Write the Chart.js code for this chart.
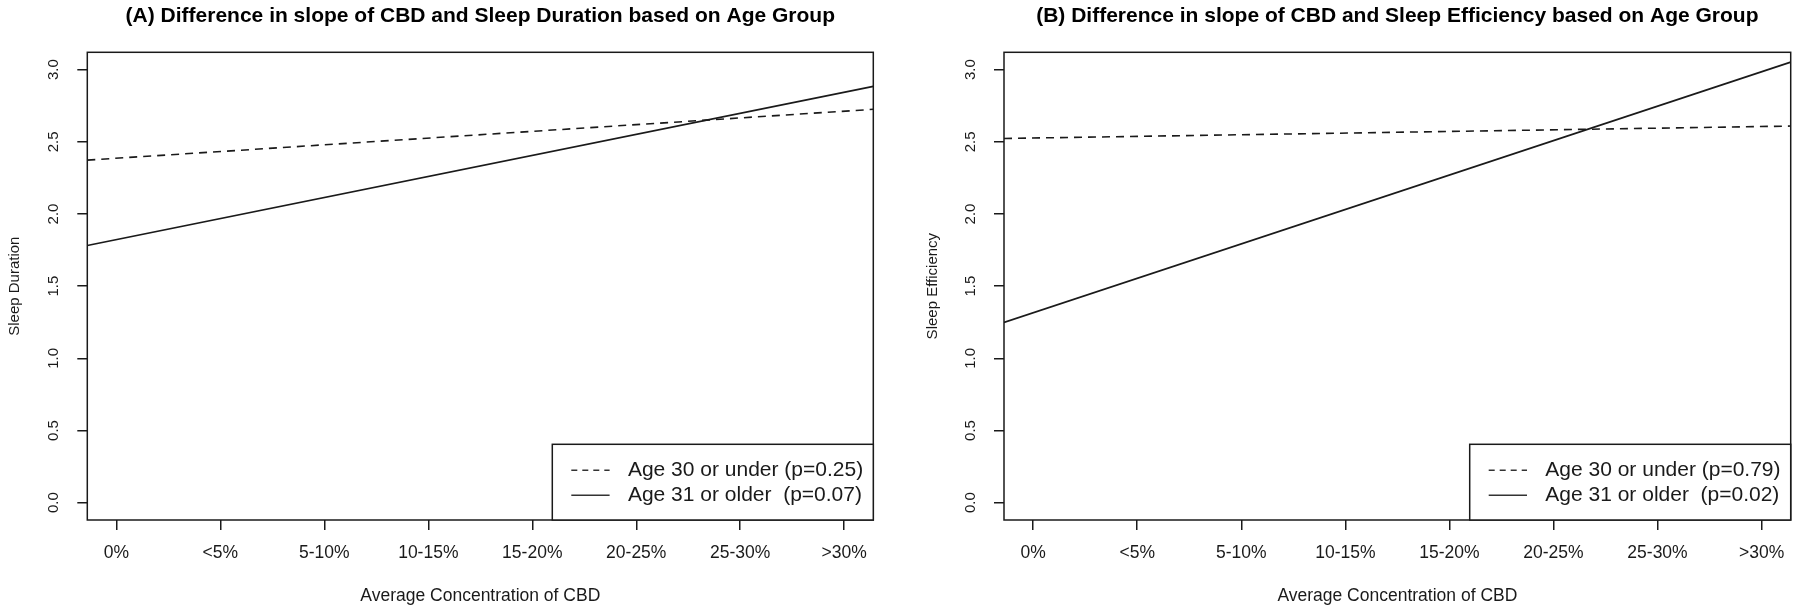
<!DOCTYPE html>
<html>
<head>
<meta charset="utf-8">
<script src="https://cdn.jsdelivr.net/npm/chart.js@4.4.1/dist/chart.umd.min.js"></script>
<style>
  html, body { margin: 0; padding: 0; background: #ffffff; }
  #wrap { position: relative; width: 1800px; height: 608px; overflow: hidden; background: #ffffff; }
  .pane { position: absolute; top: 0; width: 900px; height: 608px; }
  canvas { display: block; }
</style>
</head>
<body>
<div id="wrap">
  <div class="pane" style="left:0px"><canvas id="chartA" width="900" height="608"></canvas></div>
  <div class="pane" style="left:900px"><canvas id="chartB" width="900" height="608"></canvas></div>
</div>
<script>
// ---------------- data ----------------
const categories = ['0%', '<5%', '5-10%', '10-15%', '15-20%', '20-25%', '25-30%', '>30%'];
const yTickValues = [0, 0.5, 1, 1.5, 2, 2.5, 3];
const yTickLabels = ['0.0', '0.5', '1.0', '1.5', '2.0', '2.5', '3.0'];
const xRange = [0.72, 8.28];          // plot edges, in category units (1 = '0%', 8 = '>30%')
const yRange = [-0.12, 3.12];

// fitted lines, value read at the left and right edge of each plot
const durationUnder30 = [2.373, 2.725];
const durationOver31  = [1.781, 2.884];
const efficiencyUnder30 = [2.523, 2.609];
const efficiencyOver31  = [1.249, 3.052];

const legendA = ['Age 30 or under (p=0.25)', 'Age 31 or older  (p=0.07)'];
const legendB = ['Age 30 or under (p=0.79)', 'Age 31 or older  (p=0.02)'];

const titleA = '(A) Difference in slope of CBD and Sleep Duration based on Age Group';
const titleB = '(B) Difference in slope of CBD and Sleep Efficiency based on Age Group';
const xTitle = 'Average Concentration of CBD';
const yTitleA = 'Sleep Duration';
const yTitleB = 'Sleep Efficiency';

// ---------------- style ----------------
const FONT = "'Liberation Sans', Arial, Helvetica, sans-serif";
const INK = '#1a1a1a';
const DASH = [8, 6];

const rPlotPlugin = {
  id: 'rPlot',
  afterDraw(chart, args, opts) {
    const { ctx, chartArea: a } = chart;
    ctx.save();
    // plot box
    ctx.strokeStyle = INK;
    ctx.lineWidth = 1.5;
    ctx.setLineDash([]);
    ctx.strokeRect(a.left, a.top, a.right - a.left, a.bottom - a.top);

    // rotated y tick labels (R style, parallel to axis)
    const ys = chart.scales.y;
    ctx.fillStyle = INK;
    ctx.font = '15px ' + FONT;
    ctx.textAlign = 'center';
    ctx.textBaseline = 'middle';
    yTickValues.forEach((v, i) => {
      const py = ys.getPixelForValue(v);
      ctx.save();
      ctx.translate(a.left - 33, py);
      ctx.rotate(-Math.PI / 2);
      ctx.fillText(yTickLabels[i], 0, 0);
      ctx.restore();
    });

    // legend box, bottom-right
    const lw = 321, lh = 75.7;
    const lx = a.right - lw, ly = a.bottom - lh;
    ctx.fillStyle = '#ffffff';
    ctx.fillRect(lx, ly, lw, lh);
    ctx.strokeStyle = INK;
    ctx.lineWidth = 1.5;
    ctx.strokeRect(lx, ly, lw, lh);
    const rows = [26, 51];
    chart.data.datasets.forEach((ds, i) => {
      const yy = ly + rows[i];
      ctx.beginPath();
      ctx.strokeStyle = '#333';
      ctx.lineWidth = 1.4;
      ctx.setLineDash(ds.borderDash && ds.borderDash.length ? [6, 5] : []);
      ctx.moveTo(lx + 19, yy);
      ctx.lineTo(lx + 57.3, yy);
      ctx.stroke();
      ctx.setLineDash([]);
      ctx.fillStyle = INK;
      ctx.font = '21px ' + FONT;
      ctx.textAlign = 'left';
      ctx.textBaseline = 'middle';
      ctx.fillText(ds.label, lx + 75.6, yy);
    });
    ctx.restore();
  }
};

function makeChart(id, title, yTitle, under, over, labels, boxLeft, boxRight, yTitlePad) {
  const toPts = (arr) => xRange.map((x, i) => ({ x: x, y: arr[i] }));
  return new Chart(document.getElementById(id), {
    type: 'scatter',
    data: {
      datasets: [
        { label: labels[0], data: toPts(under), showLine: true, borderColor: INK, borderWidth: 1.6,
          borderDash: DASH, pointRadius: 0, pointHoverRadius: 0, fill: false },
        { label: labels[1], data: toPts(over), showLine: true, borderColor: INK, borderWidth: 1.6,
          borderDash: [], pointRadius: 0, pointHoverRadius: 0, fill: false }
      ]
    },
    options: {
      responsive: false,
      maintainAspectRatio: false,
      animation: false,
      devicePixelRatio: 1,
      events: [],
      layout: { padding: { left: 0, right: 900 - boxRight, top: 0, bottom: 0 } },
      plugins: {
        legend: { display: false },
        tooltip: { enabled: false },
        title: {
          display: true, text: title, fullSize: false, color: '#000',
          font: { family: FONT, size: 21, weight: 'bold', lineHeight: 1.2 },
          padding: { top: 3.4, bottom: 23.7 }
        }
      },
      scales: {
        x: {
          type: 'linear', position: 'bottom',
          min: xRange[0], max: xRange[1],
          afterBuildTicks: (s) => { s.ticks = categories.map((c, i) => ({ value: i + 1 })); },
          afterFit: (s) => { s.height = 88; },
          ticks: {
            callback: (v) => categories[Math.round(v) - 1] || '',
            autoSkip: false, maxRotation: 0, minRotation: 0,
            font: { family: FONT, size: 17.5, lineHeight: 1.2 }, color: INK, padding: 12.5
          },
          grid: { display: true, drawOnChartArea: false, drawTicks: true, tickLength: 10, color: INK, lineWidth: 1.5 },
          border: { display: false },
          title: { display: true, text: xTitle, color: INK,
                   font: { family: FONT, size: 17.5, lineHeight: 1.2 }, padding: { top: 0, bottom: 1.5 } }
        },
        y: {
          type: 'linear', position: 'left',
          min: yRange[0], max: yRange[1],
          afterBuildTicks: (s) => { s.ticks = yTickValues.map((v) => ({ value: v })); },
          afterFit: (s) => { s.width = boxLeft; },
          ticks: { display: false },
          grid: { display: true, drawOnChartArea: false, drawTicks: true, tickLength: 10, color: INK, lineWidth: 1.5 },
          border: { display: false },
          title: { display: true, text: yTitle, color: INK,
                   font: { family: FONT, size: 15, lineHeight: 1.2 }, padding: { top: yTitlePad, bottom: 0 } }
        }
      }
    },
    plugins: [rPlotPlugin]
  });
}

makeChart('chartA', titleA, yTitleA, durationUnder30, durationOver31, legendA, 87.3, 873.3, 6);
makeChart('chartB', titleB, yTitleB, efficiencyUnder30, efficiencyOver31, legendB, 104, 890.7, 24.3);
</script>
</body>
</html>
